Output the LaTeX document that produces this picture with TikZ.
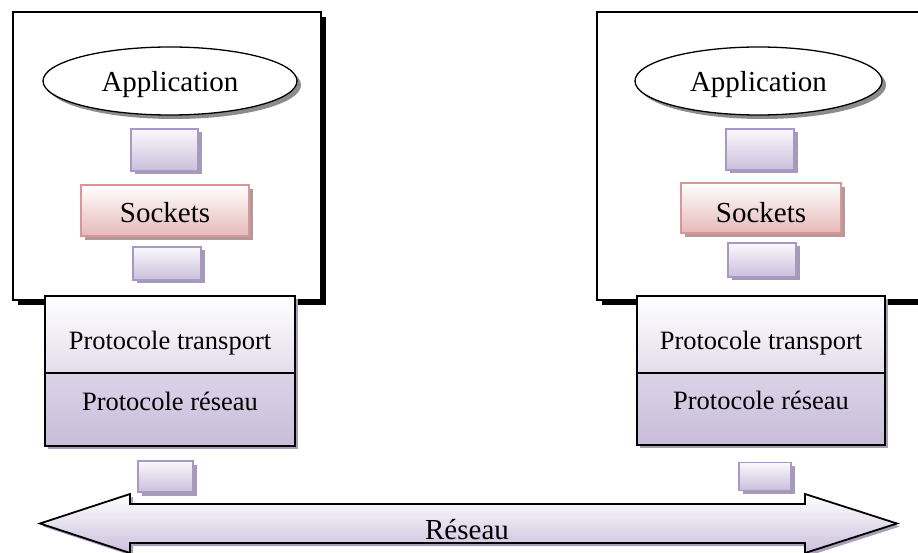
\documentclass[tikz,border=0pt]{standalone}
\usepackage{fontspec}
\setmainfont{Liberation Serif}
\usetikzlibrary{shapes.geometric,shadows}
\definecolor{lavb}{HTML}{A898C8}
\definecolor{lavtop}{HTML}{FAF9FC}
\definecolor{lavbot}{HTML}{CBBFDC}
\definecolor{lavsh}{HTML}{A49CB2}
\definecolor{pinkb}{HTML}{D89696}
\definecolor{pinkbot}{HTML}{E6B8B8}
\definecolor{pinksh}{HTML}{B39A9A}
\definecolor{ptopbot}{HTML}{E4DCEC}
\definecolor{pbottop}{HTML}{DCD3E8}
\definecolor{pbotbot}{HTML}{C9BDDA}
\definecolor{psh}{HTML}{A8A0B4}
\tikzset{
  bigbox/.style={rectangle,draw=black,line width=1.6pt,fill=white,inner sep=0pt,
    drop shadow={shadow xshift=5pt,shadow yshift=-5pt,fill=black,opacity=1}},
  appnode/.style={ellipse,draw=black,line width=1.3pt,fill=white,inner sep=0pt,
    font=\fontsize{29}{32}\selectfont,text height=22pt,text depth=0pt,
    drop shadow={shadow xshift=4pt,shadow yshift=-4pt,fill=black!45,opacity=1}},
  cube/.style={rectangle,draw=lavb,line width=1.8pt,top color=lavtop,bottom color=lavbot,inner sep=0pt,
    drop shadow={shadow xshift=3.5pt,shadow yshift=-3.5pt,fill=lavsh,opacity=1}},
  sockbox/.style={rectangle,draw=pinkb,line width=1.8pt,top color=white,bottom color=pinkbot,inner sep=0pt,
    font=\fontsize{29}{32}\selectfont,text depth=0pt,
    drop shadow={shadow xshift=4pt,shadow yshift=-4pt,fill=pinksh,opacity=1}},
  ptop/.style={rectangle,draw=black,line width=1.6pt,top color=white,bottom color=ptopbot,inner sep=0pt,
    font=\fontsize{26.5}{30}\selectfont,text height=29pt,text depth=0pt,
    drop shadow={shadow xshift=3pt,shadow yshift=-3pt,fill=psh,opacity=1}},
  pbot/.style={rectangle,draw=black,line width=1.6pt,top color=pbottop,bottom color=pbotbot,inner sep=0pt,
    font=\fontsize{26.5}{30}\selectfont,text height=10pt,text depth=9pt,
    drop shadow={shadow xshift=3pt,shadow yshift=-3pt,fill=psh,opacity=1}},
  netarrow/.style={draw=black,line width=1.8pt,line join=miter,top color=white,bottom color=lavbot,
    drop shadow={shadow xshift=3pt,shadow yshift=-3pt,fill=psh,opacity=1}},
  lbl/.style={font=\fontsize{29}{32}\selectfont,inner sep=0pt}
}
\begin{document}
\begin{tikzpicture}[x=1pt,y=-1pt]
\useasboundingbox (0,0) rectangle (918,553);
\clip (0,0) rectangle (918,553);
% left host
\node[bigbox,minimum width=308pt,minimum height=288pt] (bigL) at (167,156) {};
\node[appnode,minimum width=254pt,minimum height=68pt] (appL) at (170,81) {Application};
\node[cube,minimum width=67pt,minimum height=42pt] (c1L) at (164.5,150) {};
\node[sockbox,text height=25pt,minimum width=168pt,minimum height=51pt] (sockL) at (165,210.5) {Sockets};
\node[cube,minimum width=68pt,minimum height=33pt] (c2L) at (167,263.5) {};
\node[ptop,minimum width=250pt,minimum height=77pt] (ptL) at (170,334.5) {Protocole transport};
\node[pbot,minimum width=250pt,minimum height=73pt] (prL) at (170,409.5) {Protocole réseau};
\node[cube,minimum width=55pt,minimum height=31pt] (c3L) at (165.5,476.5) {};
% right host
\node[bigbox,minimum width=333pt,minimum height=288pt] (bigR) at (763.5,156) {};
\node[appnode,minimum width=247pt,minimum height=68pt] (appR) at (758.5,81) {Application};
\node[cube,minimum width=68pt,minimum height=41pt] (c1R) at (760,149.5) {};
\node[sockbox,text height=30pt,minimum width=160pt,minimum height=50pt] (sockR) at (761,208) {Sockets};
\node[cube,minimum width=68pt,minimum height=34pt] (c2R) at (762,260) {};
\node[ptop,minimum width=248pt,minimum height=77pt] (ptR) at (761,334.5) {Protocole transport};
\node[pbot,minimum width=248pt,minimum height=72pt] (prR) at (761,409) {Protocole réseau};
\node[cube,minimum width=52pt,minimum height=28pt] (c3R) at (765,476.5) {};
% network arrow
\path[netarrow] (40,523.5) -- (130,494) -- (130,504) -- (805,504) -- (805,494) -- (897,523.5)
  -- (805,553) -- (805,543) -- (130,543) -- (130,553) -- cycle;
\node[lbl,anchor=base] (net) at (467,539) {Réseau};
\end{tikzpicture}
\end{document}
